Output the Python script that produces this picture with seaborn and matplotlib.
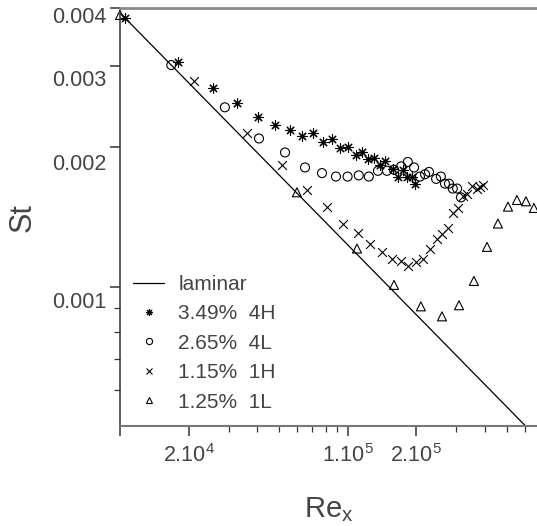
import numpy as np
import pandas as pd
import matplotlib
matplotlib.use("Agg")
import matplotlib.pyplot as plt
import matplotlib.transforms as mtransforms
from matplotlib.lines import Line2D
from matplotlib.ticker import NullFormatter
import seaborn as sns

# data (Re_x, St)
laminar_re = [1.0e4, 6.8e5]
laminar_st = [0.00390, 0.000473]

re_4h = [1.05e4, 1.80e4, 2.56e4, 3.27e4, 4.04e4, 4.80e4, 5.58e4, 6.30e4, 7.05e4, 7.80e4,
         8.54e4, 9.26e4, 1.00e5, 1.09e5, 1.16e5, 1.23e5, 1.31e5, 1.39e5, 1.46e5, 1.58e5,
         1.67e5, 1.75e5, 1.82e5, 1.92e5, 1.98e5]
st_4h = [0.00380, 0.00306, 0.00269, 0.00249, 0.00232, 0.00224, 0.00218, 0.00212, 0.00215, 0.00205,
         0.00208, 0.00199, 0.00200, 0.00193, 0.00195, 0.00189, 0.00190, 0.00183, 0.00187, 0.00180,
         0.00173, 0.00179, 0.00173, 0.00173, 0.00167]

re_4l = [1.68e4, 2.89e4, 4.08e4, 5.31e4, 6.50e4, 7.72e4, 8.89e4, 1.00e5, 1.12e5, 1.24e5,
         1.36e5, 1.49e5, 1.60e5, 1.72e5, 1.84e5, 1.96e5, 2.08e5, 2.19e5, 2.28e5, 2.45e5,
         2.57e5, 2.68e5, 2.79e5, 2.90e5, 3.03e5, 3.15e5]
st_4l = [0.00301, 0.00244, 0.00209, 0.00195, 0.00181, 0.00176, 0.00173, 0.00173, 0.00174, 0.00173,
         0.00178, 0.00178, 0.00179, 0.00182, 0.00186, 0.00181, 0.00173, 0.00175, 0.00177, 0.00171,
         0.00173, 0.00167, 0.00167, 0.00163, 0.00163, 0.00156]

re_1h = [2.11e4, 3.61e4, 5.15e4, 6.63e4, 8.12e4, 9.54e4, 1.11e5, 1.25e5, 1.42e5, 1.57e5,
         1.72e5, 1.84e5, 2.00e5, 2.15e5, 2.30e5, 2.47e5, 2.60e5, 2.76e5, 2.90e5, 3.06e5,
         3.21e5, 3.35e5, 3.52e5, 3.70e5, 3.82e5, 3.93e5]
st_1h = [0.00278, 0.00215, 0.00183, 0.00162, 0.00149, 0.00137, 0.00131, 0.00124, 0.00119, 0.00115,
         0.00114, 0.00111, 0.00113, 0.00115, 0.00121, 0.00127, 0.00130, 0.00134, 0.00144, 0.00148,
         0.00157, 0.00159, 0.00165, 0.00163, 0.00164, 0.00166]

re_1l = [1.00e4, 5.99e4, 1.10e5, 1.60e5, 2.10e5, 2.60e5, 3.09e5, 3.59e5, 4.10e5, 4.58e5,
         5.07e5, 5.55e5, 6.08e5, 6.59e5]
st_1l = [0.00386, 0.00160, 0.00121, 0.00101, 0.000908, 0.000864, 0.000913, 0.00103, 0.00122, 0.00137,
         0.00149, 0.00154, 0.00153, 0.00148]

labels = ['laminar', '3.49%  4H', '2.65%  4L', '1.15%  1H', '1.25%  1L']
y_ticks = [0.001, 0.002, 0.003, 0.004]
y_ticklabels = ['0.001', '0.002', '0.003', '0.004']
x_ticks = [1e4, 2e4, 1e5, 2e5]
x_ticklabels = ['', r'2.10$^4$', r'1.10$^5$', r'2.10$^5$']

sns.set_style('white')
plt.rcParams['font.family'] = ['Liberation Sans', 'DejaVu Sans']
plt.rcParams['mathtext.default'] = 'regular'

txt = '#444444'

fig = plt.figure(figsize=(5.37, 5.26), dpi=100)
ax = fig.add_axes([0.2235, 0.1892, 0.7765, 0.796])

sns.lineplot(x=laminar_re, y=laminar_st, color='black', lw=0.9, ax=ax)

star = (8, 2, 0)
sns.scatterplot(x=re_4h, y=st_4h, marker=star, s=46, color='black', linewidth=0.8, ax=ax, clip_on=False)
sns.scatterplot(x=re_4l, y=st_4l, marker='o', s=42, facecolors='none', edgecolor='black',
                linewidth=0.8, ax=ax, clip_on=False)
sns.scatterplot(x=re_1h, y=st_1h, marker='x', s=40, color='black', linewidth=0.8, ax=ax, clip_on=False)
sns.scatterplot(x=re_1l, y=st_1l, marker='^', s=42, facecolors='none', edgecolor='black',
                linewidth=0.8, ax=ax, clip_on=False)

ax.set_xscale('log')
ax.set_yscale('log')
ax.set_xlim(1e4, 6.8e5)
ax.set_ylim(0.0005, 0.004)

ax.set_xticks(x_ticks, labels=x_ticklabels)
ax.set_xticks([3e4, 4e4, 5e4, 6e4, 7e4, 8e4, 9e4, 3e5, 4e5, 5e5, 6e5], minor=True)
ax.set_yticks(y_ticks, labels=y_ticklabels)
ax.set_yticks([0.0006, 0.0007, 0.0008, 0.0009], minor=True)
ax.xaxis.set_minor_formatter(NullFormatter())
ax.yaxis.set_minor_formatter(NullFormatter())

ax.tick_params(which='major', direction='out', length=7, width=1.1, color='#333333',
               labelsize=15.5, labelcolor=txt, pad=3, bottom=True, left=True)
ax.tick_params(which='minor', direction='out', length=4, width=0.9, color='#333333',
               bottom=True, left=True)
ax.tick_params(axis='x', which='major', pad=6)

# y tick labels sit a bit below their ticks in the reference (pixels)
offsets = [-13, -15, -12, -7]
for tick, off in zip(ax.yaxis.get_major_ticks(), offsets):
    tick.label1.set_transform(tick.label1.get_transform() +
                              mtransforms.ScaledTranslation(0, off / fig.dpi, fig.dpi_scale_trans))

ax.spines['right'].set_visible(False)
ax.spines['left'].set_color('#333333')
ax.spines['left'].set_linewidth(1.1)
ax.spines['top'].set_color('#8a8a8a')
ax.spines['top'].set_linewidth(2.0)
ax.spines['bottom'].set_color('#777777')
ax.spines['bottom'].set_linewidth(1.5)

ax.set_xlabel(r'Re$_x$', fontsize=21, color=txt, labelpad=20)
ax.set_ylabel('St', fontsize=22, color=txt, labelpad=10)

handles = [
    Line2D([], [], color='black', lw=0.9),
    Line2D([], [], ls='none', marker=star, ms=5, color='black', mew=0.8),
    Line2D([], [], ls='none', marker='o', ms=4.5, mfc='none', mec='black', mew=0.8),
    Line2D([], [], ls='none', marker='x', ms=4.5, color='black', mew=0.8),
    Line2D([], [], ls='none', marker='^', ms=4.5, mfc='none', mec='black', mew=0.8),
]
leg = ax.legend(handles, labels, loc='upper left', bbox_to_anchor=(0.031, 0.362),
                frameon=False, fontsize=15, borderpad=0, borderaxespad=0,
                handlelength=1.5, handletextpad=0.67, labelspacing=0.5)
for t in leg.get_texts():
    t.set_color(txt)

fig.savefig('out.png', dpi=100)
